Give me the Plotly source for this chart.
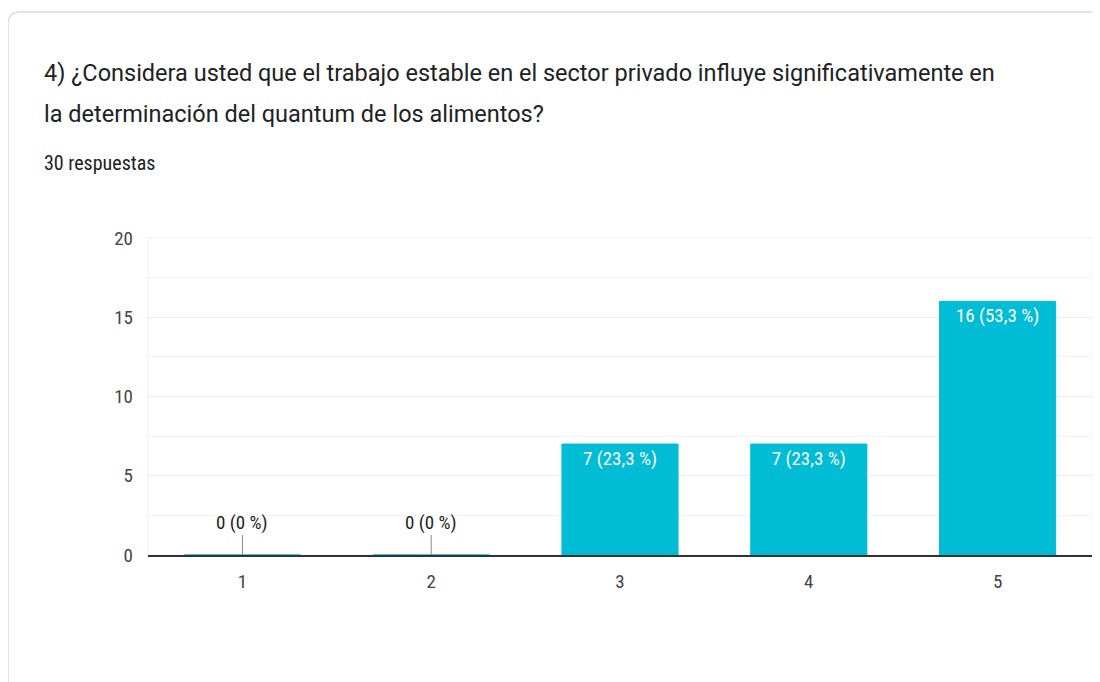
import plotly.graph_objects as go

categories = ["1", "2", "3", "4", "5"]
counts = [0, 0, 7, 7, 16]
labels = ["0 (0 %)", "0 (0 %)", "7 (23,3 %)", "7 (23,3 %)", "16 (53,3 %)"]

title_1 = "4) ¿Considera usted que el trabajo estable en el sector privado influye significativamente en"
title_2 = "la determinación del quantum de los alimentos?"
subtitle = "30 respuestas"

# the page body adds an 8px offset, so the figure covers page x/y 8..end
OFF = 8
W, H = 1100 - OFF, 682 - OFF
L, R, T, B = 148 - OFF, 8, 238 - OFF, 682 - 555
NARROW = "Liberation Sans Narrow, Roboto Condensed, Arial Narrow, Roboto, sans-serif"


def px(x):
    # page pixel -> paper x
    return (x - OFF - L) / (W - L - R)


def py(y):
    # page pixel -> paper y
    return (H - B - (y - OFF)) / (H - T - B)


fig = go.Figure()

fig.add_trace(go.Bar(
    x=categories,
    y=counts,
    text=[t if c > 0 else "" for t, c in zip(labels, counts)],
    textposition="inside",
    insidetextanchor="end",
    textangle=0,
    textfont=dict(color="white", size=19, family=NARROW),
    marker=dict(color="#00bcd4", line=dict(color="#00bcd4", width=1)),
    width=0.615,
    hoverinfo="skip",
))

# zero-value labels with leader lines
for i, (c, t) in enumerate(zip(counts, labels)):
    if c == 0:
        fig.add_annotation(
            x=i, y=0, text=t, showarrow=True, arrowhead=0,
            arrowwidth=1, arrowcolor="#888888", ax=0, ay=-33,
            font=dict(size=19, family=NARROW, color="#222222"),
        )

# title + subtitle
fig.add_annotation(xref="paper", yref="paper", x=px(42), y=py(73), text=title_1,
                   showarrow=False, xanchor="left", yanchor="middle",
                   font=dict(size=23.5, family="Roboto, sans-serif", color="#202124"))
fig.add_annotation(xref="paper", yref="paper", x=px(42), y=py(114), text=title_2,
                   showarrow=False, xanchor="left", yanchor="middle",
                   font=dict(size=23.5, family="Roboto, sans-serif", color="#202124"))
fig.add_annotation(xref="paper", yref="paper", x=px(42), y=py(163), text=subtitle,
                   showarrow=False, xanchor="left", yanchor="middle",
                   font=dict(size=20, family=NARROW, color="#202124"))

# card outline
x0, y0, r = px(8), py(12), 12
fig.add_shape(
    type="path", xref="paper", yref="paper", layer="below",
    path=(f"M {x0},{py(700)} L {x0},{py(12 + r)} "
          f"Q {x0},{y0} {px(8 + r)},{y0} L {px(1120)},{y0}"),
    line=dict(color="#dadce0", width=1.5),
)
# light frame around plot area
fig.add_shape(type="rect", xref="paper", yref="paper", x0=0, x1=1, y0=0, y1=1,
              line=dict(color="#eeeeee", width=1), layer="below")

fig.update_layout(
    width=W, height=H,
    margin=dict(l=L, r=R, t=T, b=B),
    paper_bgcolor="white", plot_bgcolor="white",
    showlegend=False,
    xaxis=dict(
        showline=True, linecolor="#333333", linewidth=2,
        showgrid=False, ticks="", tickfont=dict(size=19, family=NARROW, color="#444444"),
        ticklabelstandoff=8,
    ),
    yaxis=dict(
        range=[0, 20], tickvals=[0, 5, 10, 15, 20],
        showgrid=True, gridcolor="#eeeeee", gridwidth=1,
        minor=dict(tickvals=[2.5, 7.5, 12.5, 17.5], showgrid=True, gridcolor="#f4f4f4"),
        zeroline=False, showline=False, ticks="",
        tickfont=dict(size=19, family=NARROW, color="#444444"),
        ticklabelstandoff=14,
    ),
)

fig.write_html("out.html")
